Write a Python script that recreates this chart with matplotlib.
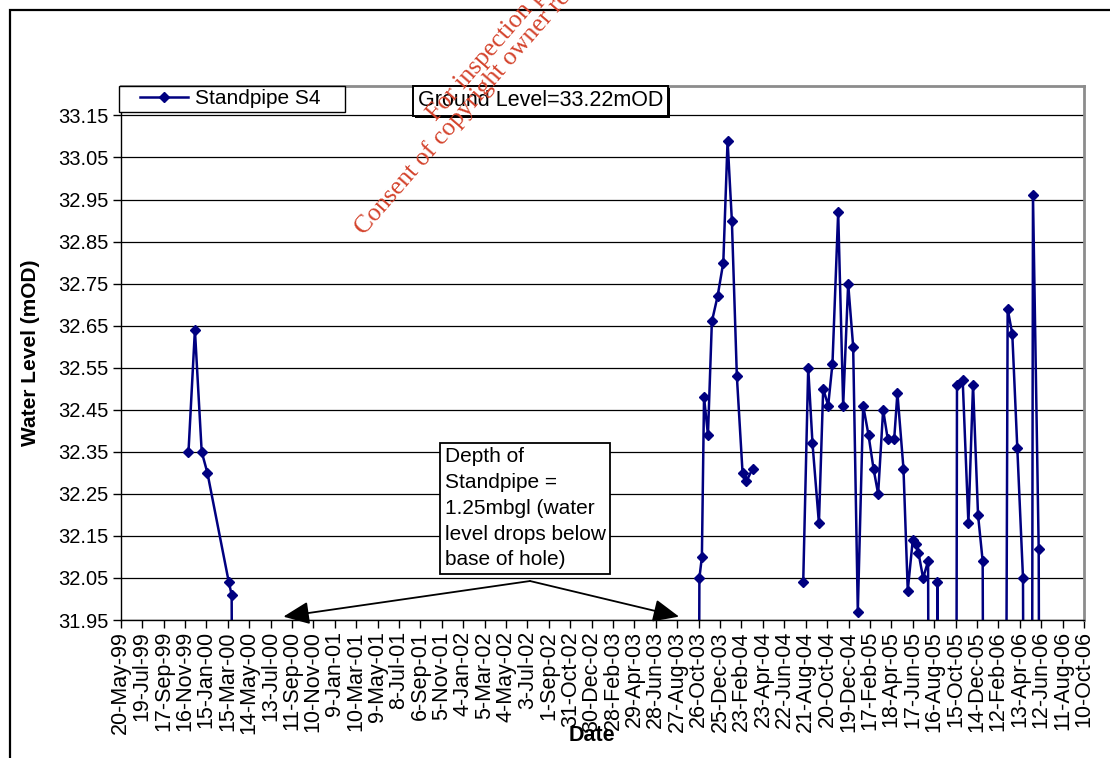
import matplotlib
matplotlib.use("Agg")
import matplotlib.pyplot as plt
import matplotlib.dates as mdates
import matplotlib.patheffects as pe
from matplotlib.patches import Rectangle
import numpy as np
import pandas as pd

plt.rcParams['font.family'] = ['Liberation Sans', 'DejaVu Sans']

# Standpipe S4 readings (mOD). 31.50 = dry reading (below base of hole, off the chart),
# NaN = no reading (gap in the line)
reading_dates = [
    '1999-11-26', '1999-12-14', '2000-01-02', '2000-01-18', '2000-03-18', '2000-03-26',
    '2000-03-28', '2003-10-26',
    '2003-10-28', '2003-11-04', '2003-11-10', '2003-11-21', '2003-12-02', '2003-12-18',
    '2004-01-03', '2004-01-15', '2004-01-27', '2004-02-10', '2004-02-26', '2004-03-08',
    '2004-03-25', '2004-05-15',
    '2004-08-14', '2004-08-28', '2004-09-09', '2004-09-27', '2004-10-09', '2004-10-23',
    '2004-11-04', '2004-11-20', '2004-12-04', '2004-12-18', '2005-01-01', '2005-01-14',
    '2005-01-29', '2005-02-13', '2005-02-27', '2005-03-12', '2005-03-26', '2005-04-08',
    '2005-04-26', '2005-05-05', '2005-05-22', '2005-06-03', '2005-06-17', '2005-06-27',
    '2005-07-03', '2005-07-16', '2005-07-30', '2005-08-01', '2005-08-23', '2005-08-25',
    '2005-08-27', '2005-10-17', '2005-10-19', '2005-11-04', '2005-11-20', '2005-12-03',
    '2005-12-17', '2005-12-30', '2006-01-01', '2006-03-05', '2006-03-10', '2006-03-23',
    '2006-04-06', '2006-04-22', '2006-04-24', '2006-05-17', '2006-05-20', '2006-06-05',
    '2006-06-07',
]
water_level = [
    32.35, 32.64, 32.35, 32.30, 32.04, 32.01,
    31.50, 31.50,
    32.05, 32.10, 32.48, 32.39, 32.66, 32.72,
    32.80, 33.09, 32.90, 32.53, 32.30, 32.28,
    32.31, np.nan,
    32.04, 32.55, 32.37, 32.18, 32.50, 32.46,
    32.56, 32.92, 32.46, 32.75, 32.60, 31.97,
    32.46, 32.39, 32.31, 32.25, 32.45, 32.38,
    32.38, 32.49, 32.31, 32.02, 32.14, 32.13,
    32.11, 32.05, 32.09, 31.50, 31.50, 32.04,
    31.50, 31.50, 32.51, 32.52, 32.18, 32.51,
    32.20, 32.09, 31.50, 31.50, 32.69, 32.63,
    32.36, 32.05, 31.50, 31.50, 32.96, 32.12,
    31.50,
]

series_label = 'Standpipe S4'
ground_text = 'Ground Level=33.22mOD'
note_text = 'Depth of\nStandpipe =\n1.25mbgl (water\nlevel drops below\nbase of hole)'
arrow_targets = ['2000-08-18', '2003-09-01']
y_ticks = [31.95, 32.05, 32.15, 32.25, 32.35, 32.45, 32.55, 32.65, 32.75, 32.85, 32.95, 33.05, 33.15]
x_start, x_end = '1999-05-20', '2006-10-10'

dates = pd.to_datetime(reading_dates)
fs = 14.5
navy = '#000080'

fig = plt.figure(figsize=(11.1, 7.58), dpi=100)
ax = fig.add_axes([120.7 / 1110, 1 - 620 / 758, (1084 - 120.7) / 1110, (620 - 86) / 758])

ax.plot(dates, water_level, color=navy, lw=1.8, marker='D', ms=5.5, label=series_label)

ax.set_ylim(31.95, 33.22)
ax.set_yticks(y_ticks)
ax.set_yticklabels([f'{v:.2f}' for v in y_ticks])
ax.yaxis.grid(True, color='black', lw=0.9)

xticks = pd.date_range(x_start, x_end, freq='60D')
ax.set_xlim(pd.Timestamp(x_start), pd.Timestamp(x_end))
ax.set_xticks(xticks)
ax.set_xticklabels([f"{d.day}-{d.strftime('%b-%y')}" for d in xticks], rotation=90, va='top')

ax.tick_params(axis='both', direction='out', length=6, width=1, colors='black', labelsize=fs)
ax.tick_params(axis='x', pad=2, labelsize=15.5)
ax.tick_params(axis='y', pad=3)

for side in ['left', 'bottom']:
    ax.spines[side].set_color('black')
    ax.spines[side].set_linewidth(1.0)
for side in ['top', 'right']:
    ax.spines[side].set_color('#8c8c8c')
    ax.spines[side].set_linewidth(2.0)

ax.set_ylabel('Water Level (mOD)', fontsize=15, fontweight='bold')
ax.yaxis.set_label_coords(-0.084, 0.5)
ax.set_xlabel('Date', fontsize=15.5, fontweight='bold')
ax.xaxis.set_label_coords(0.489, -0.196)

# legend with a hand drawn frame, as in the spreadsheet chart
ax.add_patch(Rectangle((-0.0018, 0.9513), 0.2346, 0.0487, transform=ax.transAxes,
                       fc='white', ec='black', lw=1.0, zorder=4, clip_on=False))
leg = ax.legend(loc='center left', bbox_to_anchor=(0.020, 0.9757), borderaxespad=0,
                fontsize=15, frameon=False, handlelength=2.3, handletextpad=0.35, borderpad=0)
leg.set_zorder(5)

gl = ax.text(0.3085, 0.992, ground_text, transform=ax.transAxes, ha='left', va='top',
             fontsize=15.5, bbox=dict(boxstyle='square,pad=0.22', fc='white', ec='black', lw=1.4),
             zorder=5)
gl.get_bbox_patch().set_path_effects([pe.SimplePatchShadow(offset=(1.5, -1.5), shadow_rgbFace='black',
                                                            alpha=1.0), pe.Normal()])

ax.text(0.3362, 0.3235, note_text, transform=ax.transAxes, ha='left', va='top', fontsize=15,
        linespacing=1.45, bbox=dict(boxstyle='square,pad=0.22', fc='white', ec='black', lw=1.3),
        zorder=5)

for tgt in arrow_targets:
    ax.annotate('', xy=(mdates.date2num(pd.Timestamp(tgt)), 31.958), xycoords='data',
                xytext=(0.4249, 0.073), textcoords='axes fraction',
                arrowprops=dict(arrowstyle='-|>,head_length=0.8,head_width=0.35', color='black',
                                lw=1.3, mutation_scale=20, shrinkA=0, shrinkB=0),
                annotation_clip=False, zorder=6)

# outer chart frame (only top and left edges fall inside the picture)
fig.add_artist(Rectangle((10 / 1110, -0.1), 1.2, 1.1 - 10 / 758, transform=fig.transFigure,
                         fill=False, ec='black', lw=1.6, clip_on=False))

# watermark
wm_color = '#d4432c'
fig.text(436 / 1110, 1 - 122 / 758, 'For inspection purposes only.', rotation=49,
         rotation_mode='anchor', ha='left', va='baseline', fontsize=18.5, color=wm_color,
         family=['Liberation Serif', 'DejaVu Serif'], zorder=10)
fig.text(364 / 1110, 1 - 236 / 758, 'Consent of copyright owner required for any other use.',
         rotation=49, rotation_mode='anchor', ha='left', va='baseline', fontsize=18.5,
         color=wm_color, family=['Liberation Serif', 'DejaVu Serif'], zorder=10)

fig.savefig('out.png', dpi=100, facecolor='white')
